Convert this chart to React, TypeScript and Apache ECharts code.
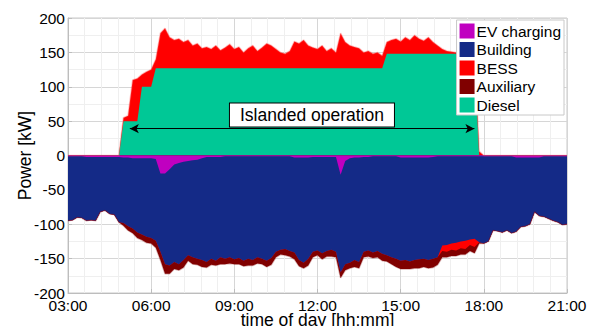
import React, { useEffect, useRef } from 'react';
import * as echarts from 'echarts';

// 10-minute samples from 03:00 to 21:00 (one row per hour)
const START_HOUR = 3;
const STEP_MIN = 10;

const diesel = [
  0, 0, 0, 0, 0, 0,
  0, 0, 0, 0, 0, 0,
  50, 50, 50, 50, 100, 100,
  100, 127, 127, 127, 127, 127,
  127, 127, 127, 127, 127, 127,
  127, 127, 127, 127, 127, 127,
  127, 127, 127, 127, 127, 127,
  127, 127, 127, 127, 127, 127,
  127, 127, 127, 127, 127, 127,
  127, 127, 127, 127, 127, 127,
  127, 127, 127, 127, 127, 127,
  127, 127, 127, 148, 148, 148,
  148, 148, 148, 148, 148, 148,
  148, 148, 148, 148, 148, 148,
  148, 148, 148, 148, 148, 0,
  0, 0, 0, 0, 0, 0,
  0, 0, 0, 0, 0, 0,
  0, 0, 0, 0, 0, 0,
  0,
];

const bessDischarge = [
  0, 0, 0, 0, 0, 0,
  0, 0, 0, 0, 0, 0,
  5, 8, 60, 62, 18, 22,
  25, 13, 51, 58, 45, 41,
  43, 38, 41, 33, 36, 29,
  31, 28, 33, 26, 30, 35,
  28, 31, 23, 29, 33, 25,
  30, 36, 33, 28, 23, 21,
  25, 39, 36, 41, 33, 30,
  28, 33, 25, 29, 23, 51,
  38, 33, 31, 29, 23, 25,
  21, 23, 18, 17, 20, 22,
  18, 24, 20, 27, 22, 19,
  24, 17, 12, 7, 4, 3,
  2, 3, 2, 2, 2, 6,
  0, 0, 0, 0, 0, 0,
  0, 0, 0, 0, 0, 0,
  0, 0, 0, 0, 0, 0,
  0,
];

const bessCharge = [
  0, 0, 0, 0, 0, 0,
  0, 0, 0, 0, 0, 0,
  0, 0, 0, 0, 0, 0,
  0, 0, 0, 0, 0, 0,
  0, 0, 0, 0, 0, 0,
  0, 0, 0, 0, 0, 0,
  0, 0, 0, 0, 0, 0,
  0, 0, 0, 0, 0, 0,
  0, 0, 0, 0, 0, 0,
  0, 0, 0, 0, 0, 0,
  0, 0, 0, 0, 0, 0,
  0, 0, 0, 0, 0, 0,
  0, 0, 0, 0, 0, 0,
  0, 0, 0, -8, -10, -9,
  -11, -10, -12, -8, -12, 0,
  0, 0, 0, 0, 0, 0,
  0, 0, 0, 0, 0, 0,
  0, 0, 0, 0, 0, 0,
  0,
];

const evCharging = [
  -1, -1, -1, -1, -2, -2,
  -2, -2, -2, -2, -2, -2,
  -3, -3, -4, -4, -4, -4,
  -4, -5, -26, -26, -20, -13,
  -11, -9, -8, -7, -6, -4,
  -2, -2, -2, -2, -1, -1,
  -1, -1, -1, -1, -1, -1,
  -1, -1, -1, -1, -1, -1,
  -1, -3, -3, -3, -3, -2,
  -2, -2, -2, -2, -2, -28,
  -8, -4, -3, -3, -2, -2,
  -1, -1, -1, -1, -1, -1,
  -3, -3, -3, -3, -3, -3,
  -3, -2, -1, -1, -1, -1,
  -1, -1, -1, -1, -1, -1,
  -1, -1, -1, -1, -1, -1,
  -1, -3, -3, -3, -3, -3,
  -3, -1, -1, -1, -1, -1,
  -1,
];

const building = [
  -94, -93, -89, -90, -93, -92,
  -93, -80, -78, -83, -84, -95,
  -95, -100, -102, -108, -111, -114,
  -116, -119, -114, -132, -140, -142,
  -147, -143, -137, -141, -144, -148,
  -153, -148, -151, -146, -149, -147,
  -150, -148, -152, -149, -151, -147,
  -149, -152, -148, -139, -136, -135,
  -138, -138, -149, -153, -147, -138,
  -136, -140, -137, -135, -138, -142,
  -150, -152, -149, -152, -138, -136,
  -140, -138, -142, -144, -147, -149,
  -150, -149, -151, -149, -148, -147,
  -149, -148, -147, -130, -129, -127,
  -126, -124, -123, -121, -120, -125,
  -127, -124, -108, -109, -111, -108,
  -112, -108, -101, -100, -97, -79,
  -85, -88, -91, -94, -96, -100,
  -99,
];

const auxiliary = [
  0, 0, 0, 0, 0, 0,
  0, 0, 0, 0, 0, 0,
  -4, -6, -7, -8, -8, -9,
  -8, -10, -12, -14, -12, -10,
  -9, -11, -8, -10, -9, -10,
  -8, -9, -7, -10, -8, -9,
  -7, -9, -8, -10, -8, -9,
  -8, -9, -10, -8, -7, -9,
  -8, -10, -9, -8, -10, -8,
  -7, -9, -8, -10, -8, -8,
  -9, -8, -10, -9, -8, -9,
  -8, -9, -10, -9, -10, -12,
  -12, -13, -11, -12, -13, -12,
  -12, -13, -11, -9, -8, -9,
  -8, -9, -8, -9, -9, -2,
  0, 0, 0, 0, 0, 0,
  0, 0, 0, 0, 0, 0,
  0, 0, 0, 0, 0, 0,
  0,
];

const legendNames = ['EV charging', 'Building', 'BESS', 'Auxiliary', 'Diesel'];
const islandStart = 5.23;
const islandEnd = 17.66;
const arrowLevel = 39;
const labelPos = [11.8, 59];

const COLORS = {
  ev: '#c000c0',
  building: '#142a87',
  bess: '#ff0000',
  aux: '#800000',
  diesel: '#00c896',
};

const FONT = "'Liberation Sans', Arial, Helvetica, sans-serif";

const times = diesel.map((_, i) => START_HOUR + (i * STEP_MIN) / 60);

// cumulative layers (drawn outermost first, each filled from zero)
const addArrays = (...arrs: number[][]) => arrs[0].map((_, i) => arrs.reduce((s, a) => s + a[i], 0));
const posTop = addArrays(diesel, bessDischarge);
const negEv = evCharging;
const negBuilding = addArrays(evCharging, building);
const negBess = addArrays(evCharging, building, bessCharge);
const negAux = addArrays(evCharging, building, bessCharge, auxiliary);

const pairs = (arr: number[]) => arr.map((v, i) => [times[i], v]);

const fmtHour = (v: number) => {
  const h = Math.round(v);
  return (h < 10 ? '0' : '') + h + ':00';
};

export default function App() {
  const ref = useRef<HTMLDivElement>(null);

  useEffect(() => {
    if (!ref.current) return;
    const chart = echarts.init(ref.current, undefined, { renderer: 'svg' });

    const areaSeries = (name: string, data: number[], color: string, extra: any = {}, edge = 'rgba(0,0,0,0)') => ({
      name,
      type: 'line',
      data: pairs(data),
      color,
      showSymbol: false,
      symbol: 'none',
      lineStyle: { width: edge === 'rgba(0,0,0,0)' ? 0 : 1.5, color: edge },
      areaStyle: { color, opacity: 1, origin: 0 },
      silent: true,
      ...extra,
    });

    chart.setOption({
      animation: false,
      textStyle: { fontFamily: FONT },
      grid: {
        left: 68,
        right: 26,
        top: 18,
        bottom: 33,
        outerBoundsMode: 'none',
        containLabel: false,
        show: true,
        borderColor: '#c8c8c8',
        borderWidth: 1,
        backgroundColor: '#fff',
      },
      legend: {
        data: legendNames,
        orient: 'vertical',
        right: 29,
        top: 20,
        icon: 'rect',
        itemWidth: 15,
        itemHeight: 15,
        itemGap: 2.5,
        padding: [3, 3, 2, 3],
        backgroundColor: '#fff',
        borderColor: '#c8c8c8',
        borderWidth: 1,
        borderRadius: 0,
        selectedMode: false,
        textStyle: {
          fontSize: 15.5,
          lineHeight: 15,
          color: '#000',
          fontFamily: FONT,
          padding: [0, 0, 0, -3],
        },
      },
      xAxis: {
        type: 'value',
        min: 3,
        max: 21,
        interval: 3,
        name: 'time of day [hh:mm]',
        nameLocation: 'middle',
        nameGap: 18,
        nameMoveOverlap: false,
        nameTextStyle: { fontSize: 17.5, lineHeight: 17, color: '#000', fontFamily: FONT },
        axisLine: { show: true, onZero: false, lineStyle: { color: '#bdbdbd' } },
        axisTick: { show: true, inside: true, length: 4, lineStyle: { color: '#bdbdbd' } },
        minorTick: { show: false, splitNumber: 5 },
        axisLabel: {
          formatter: fmtHour,
          fontSize: 15.5,
          lineHeight: 14,
          color: '#000',
          margin: 5,
          fontFamily: FONT,
        },
        splitLine: { show: true, lineStyle: { color: '#d6d6d6', width: 1 } },
        minorSplitLine: { show: true, lineStyle: { color: '#efefef', width: 1 } },
      },
      yAxis: {
        type: 'value',
        min: -200,
        max: 200,
        interval: 50,
        name: 'Power [kW]',
        nameLocation: 'middle',
        nameGap: 34,
        nameMoveOverlap: false,
        nameTextStyle: { fontSize: 17.5, color: '#000', fontFamily: FONT },
        axisLine: { show: true, lineStyle: { color: '#bdbdbd' } },
        axisTick: { show: true, inside: true, length: 4, lineStyle: { color: '#bdbdbd' } },
        minorTick: { show: false, splitNumber: 2 },
        axisLabel: { fontSize: 15.5, color: '#000', margin: 3, fontFamily: FONT },
        splitLine: { show: true, lineStyle: { color: '#d6d6d6', width: 1 } },
        minorSplitLine: { show: true, lineStyle: { color: '#efefef', width: 1 } },
      },
      series: [
        areaSeries('BESS', posTop, COLORS.bess, {}, 'rgba(255,80,80,0.35)'),
        areaSeries('Diesel', diesel, COLORS.diesel, {
          markLine: {
            silent: true,
            symbol: ['arrow', 'arrow'],
            symbolSize: [7, 9],
            lineStyle: { color: '#000', width: 1.2, type: 'solid' },
            label: { show: false },
            data: [[{ coord: [islandStart, arrowLevel] }, { coord: [islandEnd, arrowLevel] }]],
          },
          markPoint: {
            silent: true,
            symbol: 'circle',
            symbolSize: 1,
            itemStyle: { color: 'rgba(0,0,0,0)' },
            label: {
              show: true,
              position: 'inside',
              formatter: 'Islanded operation',
              fontSize: 17.5,
              color: '#000',
              fontFamily: FONT,
              backgroundColor: '#fff',
              borderColor: '#000',
              borderWidth: 1,
              padding: [3, 10, 2, 10],
            },
            data: [{ coord: labelPos }],
          },
        }),
        areaSeries('Auxiliary', negAux, COLORS.aux, {}, 'rgba(128,0,0,0.3)'),
        areaSeries('BESS', negBess, COLORS.bess),
        areaSeries('Building', negBuilding, COLORS.building),
        areaSeries('EV charging', negEv, COLORS.ev),
      ],
    });

    return () => chart.dispose();
  }, []);

  return (
    <div
      ref={ref}
      style={{ position: 'fixed', left: 0, top: 0, width: 593, height: 326, background: '#fff' }}
    />
  );
}
